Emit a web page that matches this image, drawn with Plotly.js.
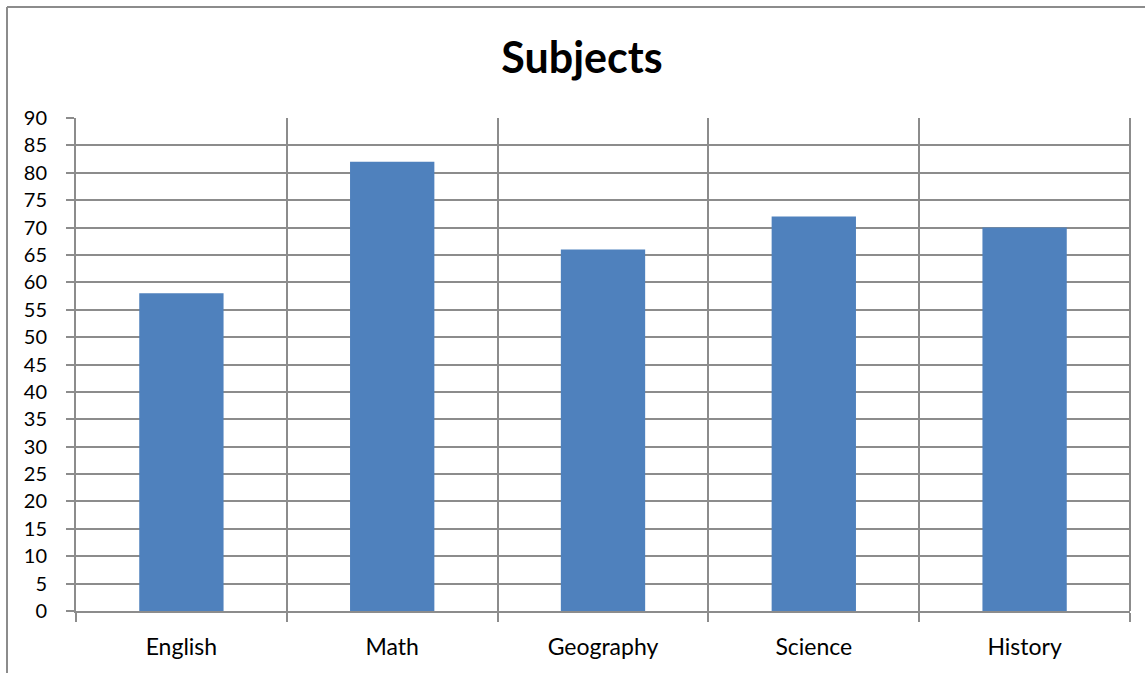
<!DOCTYPE html>
<html>
<head>
<meta charset="utf-8">
<script src="https://cdn.plot.ly/plotly-3.0.1.min.js"></script>
<style>
  html, body { margin: 0; padding: 0; background: #fff; }
  #chart { width: 1145px; height: 673px; }
</style>
</head>
<body>
<div id="chart"></div>
<script>
// Scores per subject
const subjects = ['English', 'Math', 'Geography', 'Science', 'History'];
const scores = [58, 82, 66, 72, 70];
const yTicks = [0, 5, 10, 15, 20, 25, 30, 35, 40, 45, 50, 55, 60, 65, 70, 75, 80, 85, 90];

const W = 1145, H = 673;
const M = { l: 76, r: 15, t: 118, b: 62 };
const plotW = W - M.l - M.r;
const plotH = H - M.t - M.b;
const gridColor = '#8c8c8c';
const font = 'Lato, "Open Sans", sans-serif';

// frame lines along the left and top of the chart area (pixel -> paper units)
const px = x => (x - M.l) / plotW;
const py = y => (H - M.b - y) / plotH;

const trace = {
  type: 'bar',
  x: subjects,
  y: scores,
  marker: { color: '#4F81BD', line: { width: 0 } },
  width: 0.4,
  hoverinfo: 'x+y'
};

const layout = {
  width: W,
  height: H,
  margin: M,
  paper_bgcolor: '#ffffff',
  plot_bgcolor: '#ffffff',
  showlegend: false,
  font: { family: font, size: 20, color: '#000' },
  title: {
    text: '<b>Subjects</b>',
    font: { family: font, size: 43, color: '#000' },
    x: px(582), xref: 'paper', xanchor: 'center',
    y: 1 - 58 / H, yref: 'container', yanchor: 'middle'
  },
  xaxis: {
    type: 'category',
    tickson: 'boundaries',
    ticks: 'outside',
    ticklen: 9,
    tickwidth: 2,
    tickcolor: gridColor,
    ticklabelstandoff: 14,
    showgrid: true,
    gridcolor: gridColor,
    gridwidth: 2,
    showline: true,
    linecolor: gridColor,
    linewidth: 2,
    mirror: false,
    tickfont: { family: font, size: 23, color: '#000' },
    fixedrange: true
  },
  yaxis: {
    range: [0, 90],
    tickvals: yTicks,
    ticktext: yTicks.map(String),
    ticks: 'outside',
    ticklen: 8,
    tickwidth: 2,
    tickcolor: gridColor,
    ticklabelstandoff: 15,
    showgrid: true,
    gridcolor: gridColor,
    gridwidth: 2,
    showline: true,
    linecolor: gridColor,
    linewidth: 2,
    zeroline: false,
    tickfont: { family: font, size: 20, color: '#000' },
    fixedrange: true
  },
  shapes: [
    { type: 'line', xref: 'paper', yref: 'paper', x0: px(7), x1: px(7), y0: py(7), y1: py(H + 5),
      line: { color: gridColor, width: 2 } },
    { type: 'line', xref: 'paper', yref: 'paper', x0: px(7), x1: px(W + 5), y0: py(7), y1: py(7),
      line: { color: gridColor, width: 2 } },
    { type: 'line', xref: 'paper', yref: 'paper', x0: 1, x1: 1, y0: 0, y1: 1,
      line: { color: gridColor, width: 2 } }
  ]
};

Plotly.newPlot('chart', [trace], layout, { displayModeBar: false, staticPlot: true });
</script>
</body>
</html>
